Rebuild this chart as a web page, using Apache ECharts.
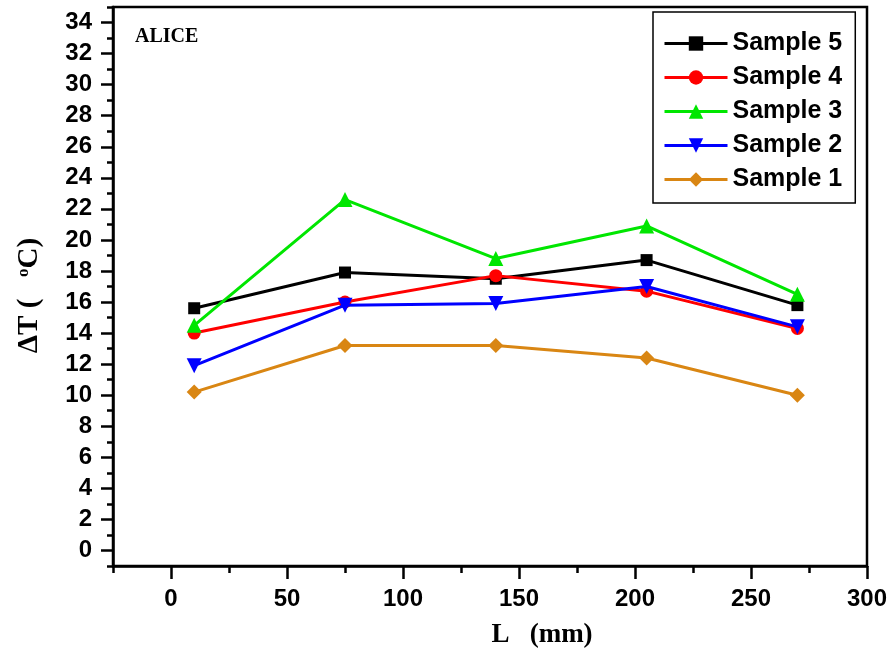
<!DOCTYPE html>
<html>
<head>
<meta charset="utf-8">
<script src="https://cdn.jsdelivr.net/npm/echarts@6/dist/echarts.min.js"></script>
<style>
html,body{margin:0;padding:0;background:#fff;}
#main{width:892px;height:653px;}
</style>
</head>
<body>
<div id="main"></div>
<script>
// ---- data ----
var xValues = [10, 75, 140, 205, 270];
var sample5 = [15.6, 17.9, 17.5, 18.7, 15.8];
var sample4 = [14.0, 16.0, 17.7, 16.7, 14.3];
var sample3 = [14.5, 22.6, 18.8, 20.9, 16.5];
var sample2 = [11.9, 15.8, 15.9, 17.0, 14.4];
var sample1 = [10.2, 13.2, 13.2, 12.4, 10.0];
var seriesNames = ['Sample 5', 'Sample 4', 'Sample 3', 'Sample 2', 'Sample 1'];
var xMajorTicks = [0, 50, 100, 150, 200, 250, 300];
var xMinorTicks = [-25, 25, 75, 125, 175, 225, 275];
var yMajorTicks = [0, 2, 4, 6, 8, 10, 12, 14, 16, 18, 20, 22, 24, 26, 28, 30, 32, 34];
var yMinorTicks = [-1, 1, 3, 5, 7, 9, 11, 13, 15, 17, 19, 21, 23, 25, 27, 29, 31, 33, 35];

function pairs(ys) { return xValues.map(function (x, i) { return [x, ys[i]]; }); }

var colors = ['#000000', '#ff0000', '#00e600', '#0000ff', '#d98613'];
var symbols = ['rect', 'circle', 'triangle', 'path://M0,0 L10,0 L5,10 Z', 'diamond'];
var symbolSizes = [12, 13, 15, 15, 15];
var seriesData = [sample5, sample4, sample3, sample2, sample1];

var labelFont = {color: '#000', fontFamily: 'Liberation Sans, Arial, sans-serif', fontWeight: 'bold', fontSize: 24};

var chart = echarts.init(document.getElementById('main'), null, {renderer: 'canvas'});
var option = {
  backgroundColor: '#fff',
  animation: false,
  grid: {left: 113, right: 25, top: 7, bottom: 87, show: true, borderColor: '#000', borderWidth: 2.5, backgroundColor: 'transparent'},
  legend: {
    data: seriesNames,
    orient: 'vertical',
    left: 653, top: 12,
    padding: [19, 13, 11, 10],
    itemGap: 9,
    itemWidth: 63, itemHeight: 18,
    borderColor: '#000', borderWidth: 1.5,
    backgroundColor: '#fff',
    lineStyle: {width: 3},
    textStyle: {color: '#000', fontFamily: 'Liberation Sans, Arial, sans-serif', fontWeight: 'bold', fontSize: 25}
  },
  xAxis: [{
    type: 'value', min: -25, max: 300, interval: 25, position: 'bottom',
    axisLine: {show: true, onZero: false, lineStyle: {color: '#000', width: 2.5}},
    axisTick: {show: true, customValues: xMinorTicks, length: 7, lineStyle: {color: '#000', width: 2.5}},
    axisLabel: Object.assign({customValues: xMajorTicks, margin: 21}, labelFont),
    splitLine: {show: false}
  }, {
    type: 'value', min: -25, max: 300, interval: 25, position: 'bottom', offset: 0,
    axisLine: {show: false, onZero: false},
    axisTick: {show: true, customValues: xMajorTicks, length: 13, lineStyle: {color: '#000', width: 2.5}},
    axisLabel: {show: false},
    splitLine: {show: false}
  }],
  yAxis: [{
    type: 'value', min: -1, max: 35, interval: 1,
    axisLine: {show: true, onZero: false, lineStyle: {color: '#000', width: 2.5}},
    axisTick: {show: true, customValues: yMajorTicks, length: 12, lineStyle: {color: '#000', width: 2.5}},
    axisLabel: Object.assign({customValues: yMajorTicks, margin: 21}, labelFont),
    splitLine: {show: false},
    name: 'ΔT (   {sup|o}C)',
    nameLocation: 'middle',
    nameGap: 69,
    nameRotate: 90,
    nameTextStyle: {
      color: '#000', fontFamily: 'Liberation Serif, Times New Roman, serif', fontWeight: 'bold', fontSize: 29,
      padding: [0, 18, 0, 0],
      rich: {sup: {fontFamily: 'Liberation Serif, serif', fontSize: 17, fontWeight: 'bold', verticalAlign: 'top', padding: [0, 0, 12, 0]}}
    }
  }, {
    type: 'value', min: -1, max: 35, interval: 1, position: 'left', offset: 0,
    axisLine: {show: false, onZero: false},
    axisTick: {show: true, customValues: yMinorTicks, length: 6, lineStyle: {color: '#000', width: 2.5}},
    axisLabel: {show: false},
    splitLine: {show: false}
  }],
  graphic: [{
    type: 'text', left: 135, top: 27,
    style: {text: 'ALICE', fill: '#000', font: 'bold 20px "Liberation Serif", "Times New Roman", serif'}
  }, {
    type: 'text', x: 542, y: 635,
    style: {text: 'L   (mm)', fill: '#000', font: 'bold 27px "Liberation Serif", "Times New Roman", serif', align: 'center', verticalAlign: 'middle'}
  }],
  series: seriesNames.map(function (name, i) {
    return {
      name: name,
      type: 'line',
      xAxisIndex: 0, yAxisIndex: 0,
      data: pairs(seriesData[i]),
      symbol: symbols[i],
      symbolSize: symbolSizes[i],
      showSymbol: true,
      lineStyle: {color: colors[i], width: 3},
      itemStyle: {color: colors[i], borderWidth: 0},
      z: 2 + i
    };
  })
};
chart.setOption(option);
</script>
</body>
</html>
